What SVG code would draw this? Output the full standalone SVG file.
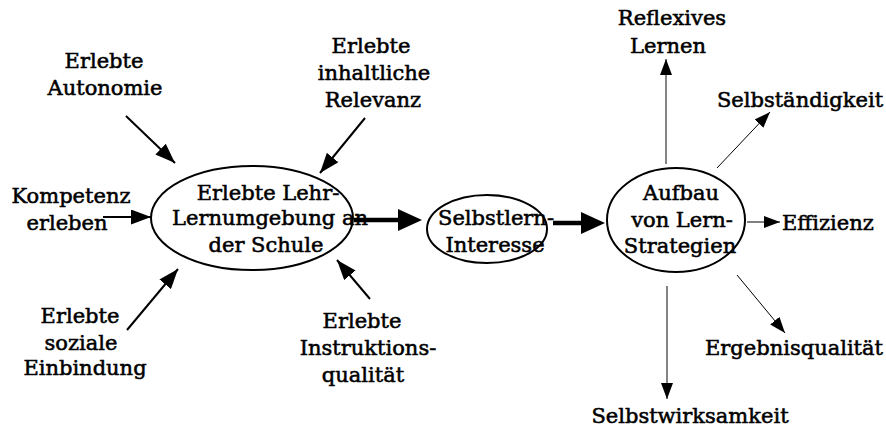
<svg xmlns="http://www.w3.org/2000/svg" width="886" height="432" viewBox="0 0 886 432">
  <style>
    text { font-family: "DejaVu Serif", "Liberation Serif", serif; font-size: 21px; fill: #000; stroke: #000; stroke-width: 0.55; text-anchor: middle; }
    .node { fill: #fff; stroke: #000; stroke-width: 2; }
    .in { stroke: #000; stroke-width: 2; fill: none; }
    .bold { stroke: #000; stroke-width: 4.5; fill: none; }
    .thin { stroke: #000; stroke-width: 1; fill: none; }
    .grey { stroke: #666; stroke-width: 1.6; fill: none; }
  </style>
  <defs>
    <marker id="arrowIn" markerUnits="userSpaceOnUse" markerWidth="20" markerHeight="15" refX="20" refY="7.5" orient="auto">
      <path d="M0,0 L20,7.5 L0,15 z" fill="#000"/>
    </marker>
    <marker id="arrowBold" markerUnits="userSpaceOnUse" markerWidth="24" markerHeight="22" refX="14" refY="11" orient="auto">
      <path d="M0,0 L24,11 L0,22 z" fill="#000"/>
    </marker>
    <marker id="arrowOut" markerUnits="userSpaceOnUse" markerWidth="16" markerHeight="12" refX="16" refY="6" orient="auto">
      <path d="M0,0 L16,6 L0,12 z" fill="#000"/>
    </marker>
  </defs>

  <rect width="886" height="432" fill="#fff"/>

  <!-- connectors -->
  <g id="connectors">
    <line class="in" x1="126" y1="116" x2="175" y2="163" marker-end="url(#arrowIn)"/>
    <line class="in" x1="365" y1="118" x2="320" y2="173" marker-end="url(#arrowIn)"/>
    <line class="in" x1="103" y1="217" x2="151" y2="217" marker-end="url(#arrowIn)"/>
    <line class="in" x1="127" y1="330" x2="178" y2="269" marker-end="url(#arrowIn)"/>
    <line class="in" x1="370" y1="299" x2="337" y2="260" marker-end="url(#arrowIn)"/>
    <line class="bold" x1="354" y1="220" x2="412" y2="220" marker-end="url(#arrowBold)"/>
    <line class="bold" x1="553" y1="223" x2="595" y2="223" marker-end="url(#arrowBold)"/>
    <line class="grey" x1="666" y1="164" x2="666" y2="59" marker-end="url(#arrowOut)"/>
    <line class="thin" x1="717" y1="168" x2="770" y2="112" marker-end="url(#arrowOut)"/>
    <line class="thin" x1="747" y1="222" x2="780" y2="222" marker-end="url(#arrowOut)"/>
    <line class="thin" x1="737" y1="275" x2="785" y2="333" marker-end="url(#arrowOut)"/>
    <line class="grey" x1="667" y1="286" x2="667" y2="399" marker-end="url(#arrowOut)"/>
  </g>

  <!-- central nodes -->
  <g id="lernumgebung">
    <ellipse class="node" cx="252" cy="218" rx="101" ry="52"/>
    <text x="268" y="200">Erlebte Lehr-</text>
    <text x="270" y="225">Lernumgebung an</text>
    <text x="266" y="252">der Schule</text>
  </g>
  <g id="interesse">
    <ellipse class="node" cx="487" cy="229" rx="60" ry="34"/>
    <text x="496" y="225">Selbstlern-</text>
    <text x="495" y="252">Interesse</text>
  </g>
  <g id="strategien">
    <ellipse class="node" cx="676" cy="220" rx="69" ry="52"/>
    <text x="681" y="200">Aufbau</text>
    <text x="682" y="227">von Lern-</text>
    <text x="680" y="253">Strategien</text>
  </g>

  <!-- input factors -->
  <g id="autonomie">
    <text x="104" y="68">Erlebte</text>
    <text x="105" y="95">Autonomie</text>
  </g>
  <g id="relevanz">
    <text x="371" y="53">Erlebte</text>
    <text x="374" y="80">inhaltliche</text>
    <text x="373" y="107">Relevanz</text>
  </g>
  <g id="kompetenz">
    <text x="71" y="203">Kompetenz</text>
    <text x="67" y="230">erleben</text>
  </g>
  <g id="einbindung">
    <text x="80" y="323">Erlebte</text>
    <text x="81" y="350">soziale</text>
    <text x="85" y="375">Einbindung</text>
  </g>
  <g id="instruktion">
    <text x="362" y="328">Erlebte</text>
    <text x="368" y="355">Instruktions-</text>
    <text x="363" y="382">qualität</text>
  </g>

  <!-- outcomes -->
  <g id="reflexiv">
    <text x="672" y="25">Reflexives</text>
    <text x="668" y="53">Lernen</text>
  </g>
  <g id="selbstaendigkeit">
    <text x="800" y="107">Selbständigkeit</text>
  </g>
  <g id="effizienz">
    <text x="782" y="230" style="text-anchor:start">Effizienz</text>
  </g>
  <g id="ergebnis">
    <text x="794" y="355">Ergebnisqualität</text>
  </g>
  <g id="selbstwirksamkeit">
    <text x="690" y="423">Selbstwirksamkeit</text>
  </g>
</svg>
